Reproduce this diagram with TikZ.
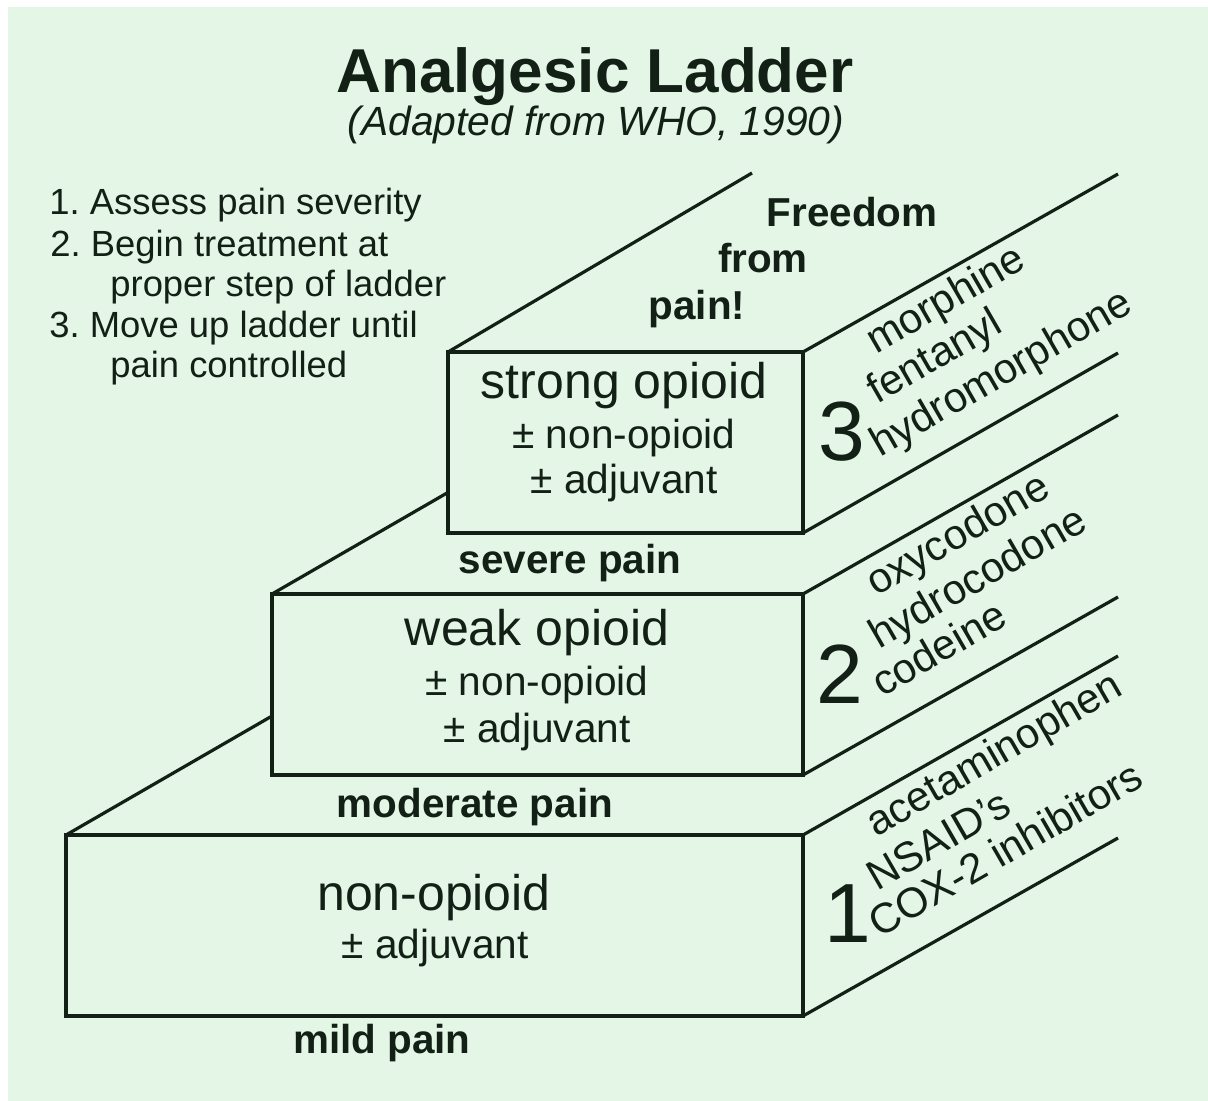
\documentclass[tikz,border=0pt]{standalone}
\usepackage{fontspec}
\setmainfont{Liberation Sans}
\frenchspacing
\definecolor{ladderbg}{RGB}{228,246,229}
\definecolor{ink}{RGB}{18,32,22}

\begin{document}
\begin{tikzpicture}[x=0.5pt, y=-0.5pt,
		face/.style={draw=ink, line width=1.6pt},
		edge/.style={draw=ink, line width=1.6pt},
		drugname/.style={big, anchor=base, font=\fontsize{25}{28}\selectfont},
		big/.style={text=ink, anchor=base},
		plusminus/.style={big, font=\fontsize{20.3}{23}\selectfont},
		pain/.style={big, font=\bfseries\fontsize{20.2}{23}\selectfont},
		stepno/.style={big, font=\fontsize{42}{46}\selectfont},
		agent/.style={text=ink, anchor=base west, rotate=30, inner sep=0pt, font=\fontsize{21}{24}\selectfont},
		note/.style={text=ink, anchor=base west, inner sep=0pt, font=\fontsize{18.2}{20}\selectfont}
	]

	\useasboundingbox (0,0) rectangle (1208,1101);
	\fill[white] (0,0) rectangle (1208,1101);
	\fill[ladderbg] (8,7) rectangle (1208,1101);

	\node[big, font=\bfseries\fontsize{31}{34}\selectfont] at (595,93) (title) {Analgesic Ladder};
	\node[big, font=\itshape\fontsize{20.4}{23}\selectfont] at (596,136) (source) {(Adapted from WHO, 1990)};

	\node[note] at (49,215) (note1) {1. Assess pain severity};
	\node[note] at (50,257) (note2) {2. Begin treatment at};
	\node[note] at (110,297) (note3) {proper step of ladder};
	\node[note] at (49,337) (note4) {3. Move up ladder until};
	\node[note] at (110,377) (note5) {pain controlled};

	% the three steps
	\draw[face] (66,835) rectangle (803,1016);
	\draw[face] (272,594) rectangle (803,775);
	\draw[face] (448,352) rectangle (803,533);

	\draw[edge] (448,352) -- (752,173);
	\draw[edge] (272,594) -- (447,493);
	\draw[edge] (66,835) -- (272,716);
	\foreach \ya/\yb in {352/174, 533/353, 594/415, 775/597, 835/656, 1016/838}
		\draw[edge] (803,\ya) -- (1118,\yb);

	\node[pain] at (852,227) (free1) {Freedom};
	\node[pain] at (763,273) (free2) {from};
	\node[pain] at (697,320) (free3) {pain!};

	\node[drugname] at (624,398) (strong) {strong opioid};
	\node[plusminus] at (624,448) (strongA) {± non-opioid};
	\node[plusminus] at (624,493) (strongB) {± adjuvant};
	\node[pain] at (570,573) (severe) {severe pain};

	\node[drugname] at (537,645) (weak) {weak opioid};
	\node[plusminus] at (537,695) (weakA) {± non-opioid};
	\node[plusminus] at (537,742) (weakB) {± adjuvant};
	\node[pain] at (475,817) (moderate) {moderate pain};

	\node[drugname] at (434,910) (nonop) {non-opioid};
	\node[plusminus] at (435,958) (nonopB) {± adjuvant};
	\node[pain] at (382,1053) (mild) {mild pain};

	\node[stepno] at (842,460) (no3) {3};
	\node[stepno] at (840,703) (no2) {2};
	\node[stepno] at (848,942) (no1) {1};

	\node[agent] at (876,355) (morphine) {morphine};
	\node[agent] at (877,405) (fentanyl) {fentanyl};
	\node[agent] at (880,458) (hydromorphone) {hydromorphone};

	\node[agent] at (876,597) (oxycodone) {oxycodone};
	\node[agent] at (879,650) (hydrocodone) {hydrocodone};
	\node[agent] at (882,698) (codeine) {codeine};

	\node[agent] at (876,838) (acetaminophen) {acetaminophen};
	\node[agent] at (877,892) (nsaid) {NSAID’s};
	\node[agent] at (879,939) (coxtwo) {COX-2 inhibitors};

\end{tikzpicture}
\end{document}
